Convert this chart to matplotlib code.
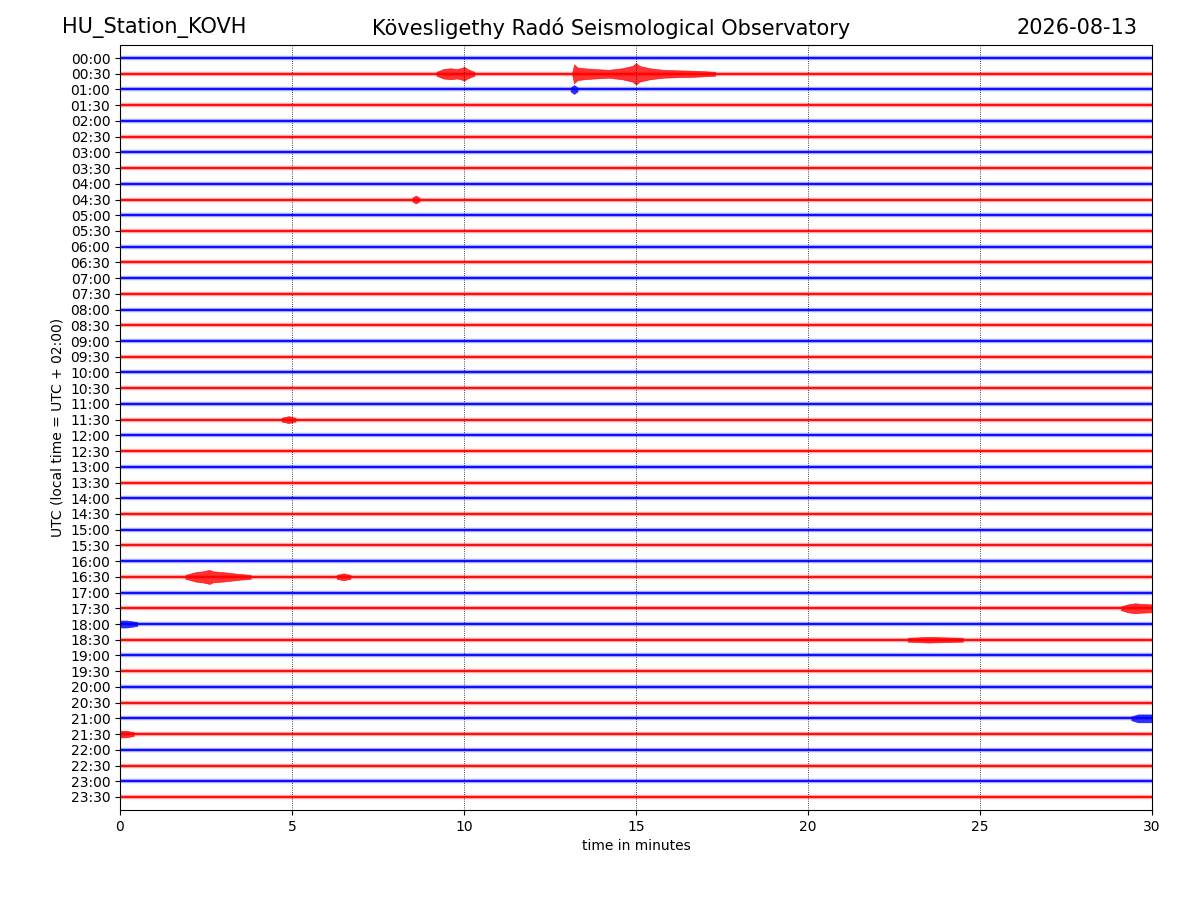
import matplotlib
matplotlib.use("Agg")
from matplotlib import pyplot as plt

STATION = "HU_Station_KOVH"
TITLE = "Kövesligethy Radó Seismological Observatory"
DATE = "2026-08-13"

# one trace per half hour
row_labels = ["%02d:%02d" % (h, m) for h in range(24) for m in (0, 30)]
row_colors = ["blue", "red"] * 24

# visible bursts: row, times (min), half-widths (row units)
ev_rows = [1, 1, 2, 9, 23, 33, 33, 35, 36, 37, 42, 43]
ev_times = [
    [9.2, 9.4, 9.6, 9.8, 9.95, 10.0, 10.1, 10.3],
    [13.15, 13.2, 13.3, 13.5, 13.8, 14.2, 14.6, 14.9, 15.0, 15.1,
     15.4, 15.8, 16.2, 16.6, 17.0, 17.3],
    [13.1, 13.2, 13.3],
    [8.5, 8.6, 8.7],
    [4.7, 4.9, 5.1],
    [1.9, 2.2, 2.4, 2.6, 2.7, 3.0, 3.4, 3.8],
    [6.3, 6.5, 6.7],
    [29.1, 29.3, 29.5, 29.7, 30.0],
    [0.0, 0.2, 0.5],
    [22.9, 23.5, 24.5],
    [29.4, 29.6, 30.0],
    [0.0, 0.2, 0.4],
]
ev_amps = [
    [0.12, 0.3, 0.35, 0.3, 0.38, 0.45, 0.3, 0.12],
    [0.12, 0.6, 0.4, 0.35, 0.3, 0.25, 0.35, 0.5, 0.68, 0.5,
     0.35, 0.25, 0.22, 0.2, 0.16, 0.12],
    [0.12, 0.28, 0.12],
    [0.12, 0.25, 0.12],
    [0.12, 0.22, 0.12],
    [0.12, 0.3, 0.35, 0.45, 0.35, 0.3, 0.2, 0.12],
    [0.12, 0.22, 0.12],
    [0.12, 0.25, 0.32, 0.28, 0.25],
    [0.22, 0.22, 0.12],
    [0.12, 0.18, 0.12],
    [0.12, 0.25, 0.25],
    [0.22, 0.2, 0.12],
]

fig = plt.figure(figsize=(12, 9), dpi=100)
ax = fig.add_axes([0.1, 0.1, 0.86, 0.85])

for i, color in enumerate(row_colors):
    # light noise fringe + solid core of each trace
    ax.plot([0, 30], [i, i], color=color, linewidth=3.2, alpha=0.35,
            solid_capstyle="butt")
    ax.plot([0, 30], [i, i], color=color, linewidth=1.3,
            solid_capstyle="butt")

for row, t, a in zip(ev_rows, ev_times, ev_amps):
    ax.fill_between(t, [row - v for v in a], [row + v for v in a],
                    color=row_colors[row], alpha=0.8, linewidth=0.5,
                    edgecolor=row_colors[row])

ax.set_xlim(0, 30)
ax.set_ylim(47.83, -0.83)
ax.set_xticks(range(0, 31, 5))
ax.set_yticks(range(48))
ax.set_yticklabels(row_labels)
ax.xaxis.grid(True, linestyle=":", color="black", linewidth=0.6)
ax.set_xlabel("time in minutes")
ax.set_ylabel("UTC (local time = UTC + 02:00)")

fig.text(0.052, 0.969, STATION, fontsize=15, va="center", ha="left")
fig.text(0.509, 0.969, TITLE, fontsize=15, va="center", ha="center")
fig.text(0.948, 0.969, DATE, fontsize=15, va="center", ha="right")

fig.savefig("out.png", dpi=100)
